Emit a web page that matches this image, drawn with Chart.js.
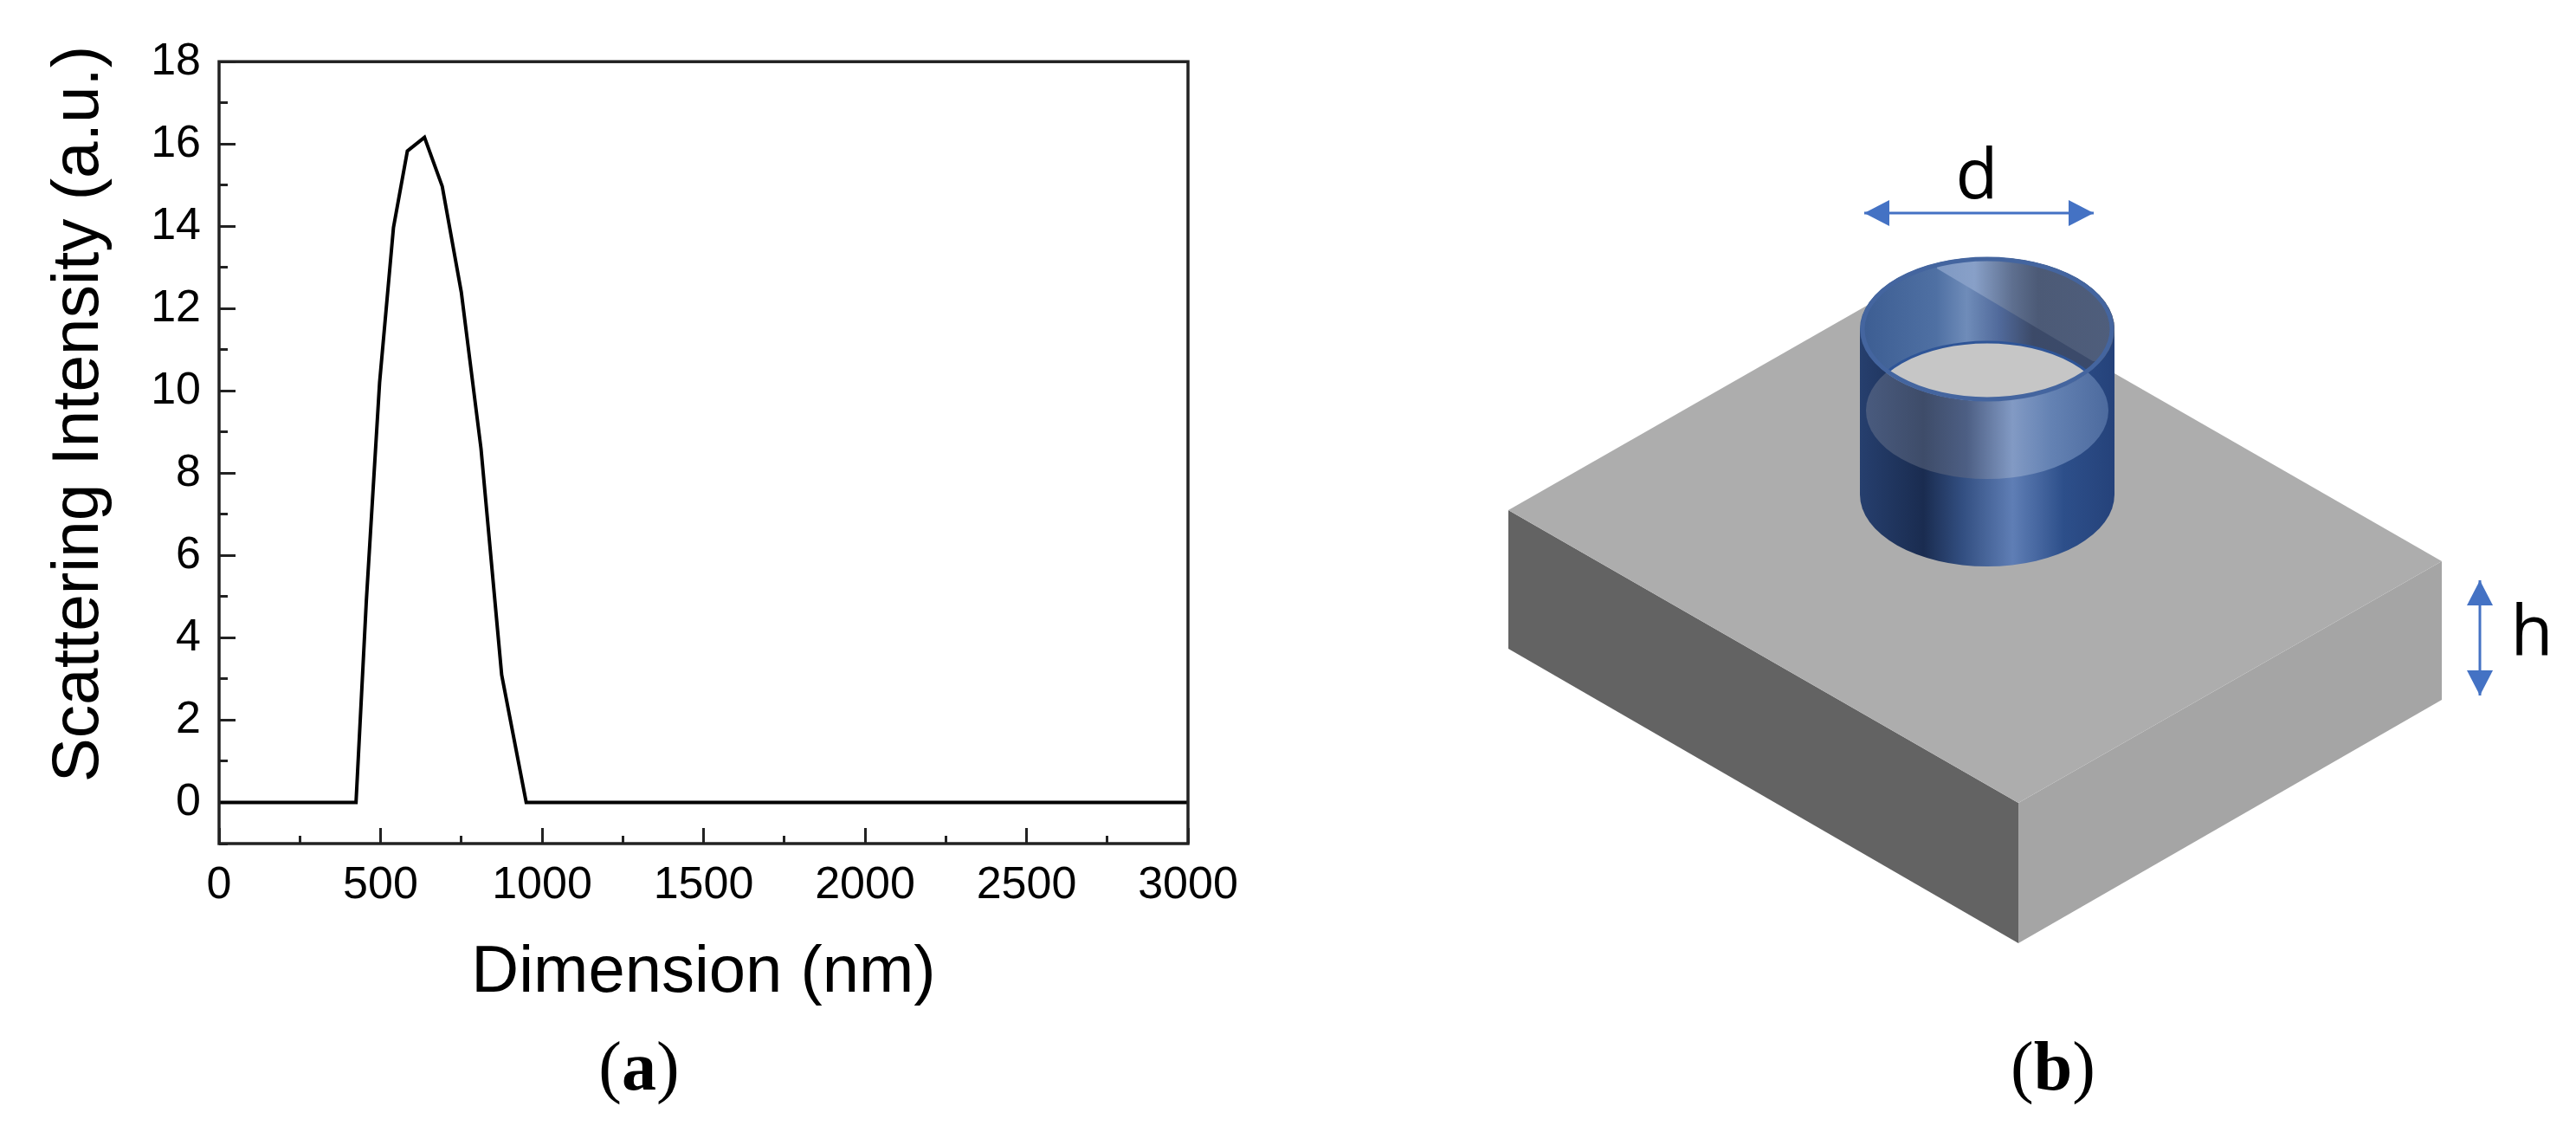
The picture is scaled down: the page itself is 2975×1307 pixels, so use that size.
<!DOCTYPE html>
<html>
<head>
<meta charset="utf-8">
<title>Scattering intensity</title>
<script src="https://cdn.jsdelivr.net/npm/chart.js@4"></script>
<style>
    html, body { margin: 0; padding: 0; background: #fff; }
    canvas { display: block; }
</style>
</head>
<body>
<canvas id="chart" width="2975" height="1307"></canvas>
<script>
// values
const dimension = [0, 424, 456, 497, 540, 583, 636, 691, 750, 811, 875, 951, 3000];
const intensity = [0, 0, 4.9, 10.2, 13.97, 15.83, 16.16, 14.97, 12.4, 8.6, 3.1, 0, 0];
const xMajor = [0, 500, 1000, 1500, 2000, 2500, 3000];
const xMinor = [250, 750, 1250, 1750, 2250, 2750];
const yMajor = [0, 2, 4, 6, 8, 10, 12, 14, 16, 18];
const yMinor = [-1, 1, 3, 5, 7, 9, 11, 13, 15, 17];

const sans = '"Liberation Sans"';
const blue = '#4472c4';

function setTicks(list){
    return function(axis){
        axis.ticks = list.map(v => ({value: v}));
    };
}

function plainLabel(value){
    return String(value);
}

function ellipse(c, x, y, rx, ry){
    c.beginPath();
    c.ellipse(x, y, rx, ry, 0, 0, Math.PI * 2);
}

function poly(c, pts, color){
    c.beginPath();
    pts.forEach((p, i) => i ? c.lineTo(p[0], p[1]) : c.moveTo(p[0], p[1]));
    c.closePath();
    c.fillStyle = color;
    c.fill();
}

function grad(c, x0, x1, stops){
    let g = c.createLinearGradient(x0, 0, x1, 0);
    stops.forEach(s => g.addColorStop(s[0], s[1]));
    return g;
}

function drawBox(c){
    poly(c, [[1742, 589], [2331, 927], [2331, 1089], [1742, 749]], '#636363');
    poly(c, [[2331, 927], [2820, 648], [2820, 808], [2331, 1089]], '#a5a5a5');
    poly(c, [[1742, 589], [2231, 310], [2820, 648], [2331, 927]], '#adadad');
}

function drawCylinder(c){
    const cx = 2295, rx = 147, ry = 83, topY = 380, floorY = 474, botY = 571;
    const L = cx - rx, R = cx + rx;

    // outer wall
    c.beginPath();
    c.moveTo(L, topY);
    c.lineTo(L, botY);
    c.ellipse(cx, botY, rx, ry, 0, Math.PI, 0, true);
    c.lineTo(R, topY);
    c.closePath();
    c.fillStyle = grad(c, L, R, [[0, '#263f6e'], [0.25, '#1a2c50'], [0.4, '#324e80'], [0.6, '#5f7eb5'], [0.8, '#2d4f8a'], [1, '#25427a']]);
    c.fill();

    // lighter front part seen through the wall
    ellipse(c, cx, floorY, rx - 7, 79);
    c.fillStyle = grad(c, L, R, [[0, '#4a5c80'], [0.25, '#3e4c69'], [0.42, '#4d5f84'], [0.6, '#829ac4'], [0.75, '#6482b3'], [1, '#4a689c']]);
    c.fill();

    // inside of the back wall
    c.save();
    ellipse(c, cx, topY, rx, ry);
    c.clip();
    c.fillStyle = grad(c, L, R, [[0, '#3c5d92'], [0.3, '#4f70a3'], [0.42, '#6f8cb9'], [0.55, '#50699a'], [0.68, '#3c4a68'], [1, '#3a4a6c']]);
    c.fillRect(L, topY - ry, rx * 2, ry * 2);
    poly(c, [[2237, 310], [2417, 417], [2460, 417], [2460, 280], [2237, 280]],
        grad(c, L, R, [[0.3, '#7f99c3'], [0.45, '#88a0c8'], [0.6, '#5e6f8f'], [0.7, '#4c5a76'], [1, '#4f5e7c']]));
    // the hole
    ellipse(c, cx, floorY, rx - 7, 79);
    c.fillStyle = '#c6c6c6';
    c.fill();
    ellipse(c, cx, floorY, rx - 7, 79);
    c.strokeStyle = '#2f5597';
    c.lineWidth = 3;
    c.stroke();
    c.restore();

    // rim
    ellipse(c, cx, topY, rx - 3, ry - 2);
    c.strokeStyle = '#44659f';
    c.lineWidth = 5;
    c.stroke();
}

function drawArrow(c, x0, y0, x1, y1){
    const len = Math.hypot(x1 - x0, y1 - y0);
    const ux = (x1 - x0) / len, uy = (y1 - y0) / len;
    const head = 29, half = 15;
    c.beginPath();
    c.moveTo(x0, y0);
    c.lineTo(x1, y1);
    c.strokeStyle = blue;
    c.lineWidth = 3;
    c.stroke();
    [[x0, y0, 1], [x1, y1, -1]].forEach(e => {
        const bx = e[0] + ux * head * e[2], by = e[1] + uy * head * e[2];
        poly(c, [[e[0], e[1]], [bx - uy * half, by + ux * half], [bx + uy * half, by - ux * half]], blue);
    });
}

function drawCaption(c, letter, x, y){
    c.textBaseline = 'alphabetic';
    c.textAlign = 'left';
    c.fillStyle = '#000';
    let normal = '80px "Liberation Serif"', bold = 'bold 80px "Liberation Serif"';
    c.font = normal;
    let pw = c.measureText('(').width;
    c.font = bold;
    let lw = c.measureText(letter).width;
    let left = x - (pw * 2 + lw) / 2;
    c.font = normal;
    c.fillText('(', left, y);
    c.font = bold;
    c.fillText(letter, left + pw, y);
    c.font = normal;
    c.fillText(')', left + pw + lw, y);
}

// plot frame, y title, caption and the schematic on the right
const extras = {
    id: 'extras',
    afterDraw(chart){
        let c = chart.ctx;
        let a = chart.chartArea;
        c.save();
        c.strokeStyle = '#222';
        c.lineWidth = 3.5;
        c.strokeRect(a.left, a.top, a.right - a.left, a.bottom - a.top);

        // the title sits above the middle of the axis, the scale title cannot do that
        c.save();
        c.translate(113, 478);
        c.rotate(-Math.PI / 2);
        c.fillStyle = '#000';
        c.textAlign = 'center';
        c.textBaseline = 'alphabetic';
        c.font = '76.5px ' + sans;
        c.fillText('Scattering Intensity (a.u.)', 0, 0);
        c.restore();

        drawBox(c);
        drawCylinder(c);
        drawArrow(c, 2153, 246, 2418, 246);
        drawArrow(c, 2864, 670, 2864, 803);

        c.fillStyle = '#000';
        c.textAlign = 'center';
        c.textBaseline = 'alphabetic';
        c.font = '80px "Open Sans"';
        c.fillText('d', 2283, 229);
        c.fillText('h', 2924, 756);

        drawCaption(c, 'a', 738, 1258);
        drawCaption(c, 'b', 2371, 1258);
        c.restore();
    }
};

const data = {
    datasets: [{
        label: 'Scattering Intensity',
        data: dimension.map((d, i) => ({x: d, y: intensity[i]})),
        showLine: true,
        borderColor: '#000',
        borderWidth: 4,
        borderJoinStyle: 'miter',
        pointRadius: 0,
        tension: 0,
        clip: false
    }]
};

const config = {
    type: 'scatter',
    data: data,
    plugins: [extras],
    options: {
        responsive: false,
        animation: false,
        events: [],
        layout: { padding: { left: 0, top: 71, right: 1603, bottom: 0 } },
        plugins: { legend: { display: false }, tooltip: { enabled: false } },
        scales: {
            x: {
                type: 'linear', position: 'bottom', min: 0, max: 3000, weight: 0,
                afterBuildTicks: setTicks(xMajor),
                afterFit(axis){ axis.height = 333; },
                grid: { drawOnChartArea: false, tickLength: -18, tickWidth: 3, tickColor: '#222' },
                border: { display: false },
                ticks: { color: '#000', font: { family: sans, size: 52 }, padding: 35, maxRotation: 0, autoSkip: false, callback: plainLabel },
                title: { display: true, text: 'Dimension (nm)', color: '#000', font: { family: sans, size: 76 }, padding: { top: 0, bottom: 137 } }
            },
            xMinor: {
                type: 'linear', position: 'bottom', min: 0, max: 3000, weight: -1,
                afterBuildTicks: setTicks(xMinor),
                afterFit(axis){ axis.height = 0; },
                grid: { drawOnChartArea: false, tickLength: -9, tickWidth: 3, tickColor: '#222' },
                border: { display: false },
                ticks: { display: false }
            },
            y: {
                type: 'linear', position: 'left', min: -1, max: 18, weight: 0,
                afterBuildTicks: setTicks(yMajor),
                afterFit(axis){ axis.width = 253; },
                grid: { drawOnChartArea: false, tickLength: -19, tickWidth: 3, tickColor: '#222' },
                border: { display: false },
                ticks: { color: '#000', font: { family: sans, size: 52 }, padding: 40, autoSkip: false, callback: plainLabel }
            },
            yMinor: {
                type: 'linear', position: 'left', min: -1, max: 18, weight: -1,
                afterBuildTicks: setTicks(yMinor),
                afterFit(axis){ axis.width = 0; },
                grid: { drawOnChartArea: false, tickLength: -10, tickWidth: 3, tickColor: '#222' },
                border: { display: false },
                ticks: { display: false }
            }
        }
    }
};

let c = document.getElementById('chart').getContext('2d');
new Chart(c, config);
</script>
</body>
</html>
